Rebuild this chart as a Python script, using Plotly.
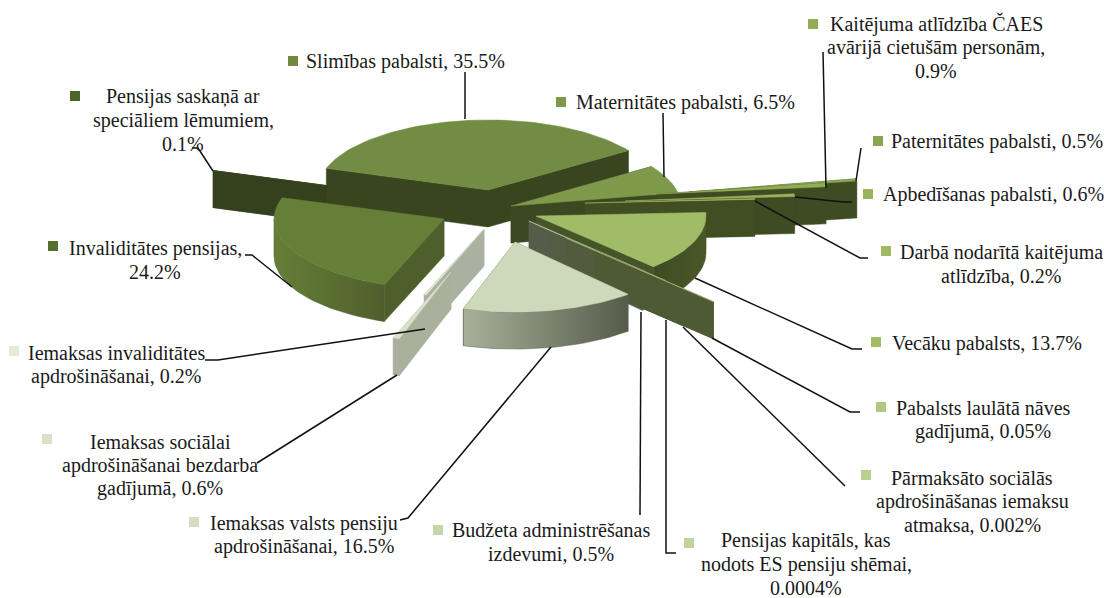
import math
import plotly.graph_objects as go

# ---------- data ----------
names = ["Slimības pabalsti", "Maternitātes pabalsti", "Paternitātes pabalsti",
         "Kaitējuma atlīdzība ČAES<br>avārijā cietušām personām", "Apbedīšanas pabalsti",
         "Darbā nodarītā kaitējuma<br>atlīdzība", "Vecāku pabalsts",
         "Pabalsts laulātā nāves<br>gadījumā", "Pārmaksāto sociālās<br>apdrošināšanas iemaksu<br>atmaksa",
         "Pensijas kapitāls, kas<br>nodots ES pensiju shēmai", "Budžeta administrēšanas<br>izdevumi",
         "Iemaksas valsts pensiju<br>apdrošināšanai", "Iemaksas sociālai<br>apdrošināšanai bezdarba<br>gadījumā",
         "Iemaksas invaliditātes<br>apdrošināšanai", "Invaliditātes pensijas",
         "Pensijas saskaņā ar<br>speciāliem lēmumiem"]
values = [35.5, 6.5, 0.5, 0.9, 0.6, 0.2, 13.7, 0.05, 0.002, 0.0004, 0.5, 16.5, 0.6, 0.2, 24.2, 0.1]
# line break between name and percentage for the labels that wrap that way
pct_break = [False, False, False, True, False, False, False, False, False, True, False, False, False, False, True, True]

# ---------- style ----------
top_col = ["#728c44", "#7f994b", "#8ba550", "#93ad55", "#9ab45e", "#9fba60", "#a0bc66", "#b0c880",
           "#b9cf90", "#c0d49d", "#c5d6a8", "#cdd9ba", "#d8e2c8", "#e0e8d0", "#667f38", "#3a4820"]
key_col = ["#6f8a3a", "#7f994b", "#8ba550", "#93ad55", "#9ab45e", "#9fba60", "#a0bc66", "#b0c880",
           "#b9cf90", "#c0d49d", "#c5d6a8", "#d4dfc0", "#d8e2c8", "#e4ebd8", "#55702e", "#4d6528"]
wall_col = ["#38451e", "#3c4821", "#3f4b22", "#3f4b22", "#3f4b22", "#414e24", "#46542a", "#4d5a33",
            "#525c3c", "#555c44", "#555c4a", "#5a6150", "#a9b09c", "#aab1a0", "#4e5f2c", "#34411c"]
rim_l = ["#38451e", "#3c4821", "#3f4b22", "#3f4b22", "#3f4b22", "#414e24", "#3f4a22", "#4d5a33",
         "#525c3c", "#555c44", "#555c4a", "#a8b09a", "#a9b09c", "#aab1a0", "#667e38", "#34411c"]
rim_r = ["#38451e", "#3c4821", "#3f4b22", "#3f4b22", "#3f4b22", "#414e24", "#4a5828", "#4d5a33",
         "#525c3c", "#555c44", "#555c4a", "#555c4a", "#a9b09c", "#aab1a0", "#4e5f2c", "#34411c"]
apex_x = [488, 511, 689, 657, 625, 585, 536, 596, 566, 549, 529, 515, 451, 484, 444, 375]
apex_y = [190, 206, 192, 194, 201, 203, 216, 251, 238, 230, 221, 242, 272, 229, 219, 192]
draw_order = [15, 0, 1, 2, 3, 4, 5, 6, 10, 9, 8, 7, 14, 13, 12, 11]
R, K, H, START = 170, 0.412, 37, -72.0
LINE_H = 23.5

key_x = [293, 561, 878, 813, 868, 886, 876, 881, 866, 689, 438, 194, 47, 14, 53, 75]
key_y = [61, 102, 141, 24, 194, 251, 342, 407, 475, 543, 530, 522, 439, 351, 246, 96]
lab_x = [405, 685, 997, 936, 993, 1001, 987, 983, 972, 806, 551, 304, 160, 116, 155, 183]
lab_y = [61, 102, 141, 47, 194, 264, 343, 420, 501, 564, 542, 535, 465, 365, 260, 120]
leaders = [
    [(465, 72), (465, 119)], [(663, 113), (664, 177)], [(861, 148), (856, 181)], [(823, 52), (826, 188)],
    [(795, 197), (843, 202), (852, 202)], [(755, 201), (860, 258), (868, 258)],
    [(695, 278), (852, 349), (862, 349)], [(712, 338), (850, 412), (860, 412)],
    [(683, 327), (845, 486)], [(666, 320), (666, 553), (676, 553)], [(641, 312), (640, 515)],
    [(551, 347), (408, 518), (400, 520)], [(397, 375), (257, 463)], [(425, 329), (218, 360), (205, 360)],
    [(292, 287), (252, 255), (245, 255)], [(213, 171), (198, 148), (192, 148)],
]

# ---------- geometry derived from the values ----------
total = sum(values)
edges = [START]
for v in values:
    edges.append(edges[-1] + v / total * 360)


def pt(i, a, r=R, dz=0):
    t = math.radians(a)
    return apex_x[i] + r * math.sin(t), apex_y[i] - r * math.cos(t) * K + dz


def arc(i, a0, a1, dz=0):
    n = max(2, int(abs(a1 - a0) / 2) + 2)
    return [pt(i, a0 + (a1 - a0) * j / (n - 1), dz=dz) for j in range(n)]


fig = go.Figure()


def poly(points, color, grad=None):
    xs = [p[0] for p in points] + [points[0][0]]
    ys = [p[1] for p in points] + [points[0][1]]
    kw = dict(fillcolor=color)
    if grad:
        kw = dict(fillgradient=dict(type="horizontal", colorscale=[[0, grad[0]], [1, grad[1]]]))
    fig.add_trace(go.Scatter(x=xs, y=ys, mode="lines", fill="toself", line=dict(color=color, width=0.5),
                             hoverinfo="skip", showlegend=False, **kw))


for i in draw_order:
    a0, a1 = edges[i], edges[i + 1]
    ax, ay = apex_x[i], apex_y[i]
    for a in (a0, a1):
        e = pt(i, a)
        poly([(ax, ay), e, (e[0], e[1] + H), (ax, ay + H)], wall_col[i])
    lo, hi = max(a0, 90), min(a1, 270)
    if hi > lo:
        poly(arc(i, lo, hi) + arc(i, hi, lo, dz=H), wall_col[i], grad=(rim_l[i], rim_r[i]) if rim_l[i] != rim_r[i] else None)
    poly([(ax, ay)] + arc(i, a0, a1), top_col[i])

for pts in leaders:
    fig.add_trace(go.Scatter(x=[p[0] for p in pts], y=[p[1] for p in pts], mode="lines",
                             line=dict(color="#111111", width=1.5), hoverinfo="skip", showlegend=False))

fig.add_trace(go.Scatter(x=key_x, y=key_y, mode="markers", hoverinfo="skip", showlegend=False,
                         marker=dict(symbol="square", size=10, color=key_col, line=dict(width=0))))

for i, n in enumerate(names):
    sep = ",<br>" if pct_break[i] else ", "
    lines = f"{n}{sep}{values[i]:g}%".split("<br>")
    for j, ln in enumerate(lines):
        fig.add_annotation(x=lab_x[i], y=lab_y[i] + (j - (len(lines) - 1) / 2) * LINE_H, text=ln, showarrow=False,
                           xanchor="center", yanchor="middle", align="center",
                           font=dict(family="Liberation Serif", size=20, color="#1a1a1a"))

fig.update_layout(width=1104, height=598, margin=dict(l=0, r=0, t=0, b=0),
                  paper_bgcolor="white", plot_bgcolor="white", showlegend=False,
                  xaxis=dict(range=[0, 1104], visible=False, fixedrange=True),
                  yaxis=dict(range=[598, 0], visible=False, fixedrange=True))
fig.write_html("out.html", config={"displayModeBar": False},
               post_script="document.body.style.margin='0';document.documentElement.style.overflow='hidden';")
